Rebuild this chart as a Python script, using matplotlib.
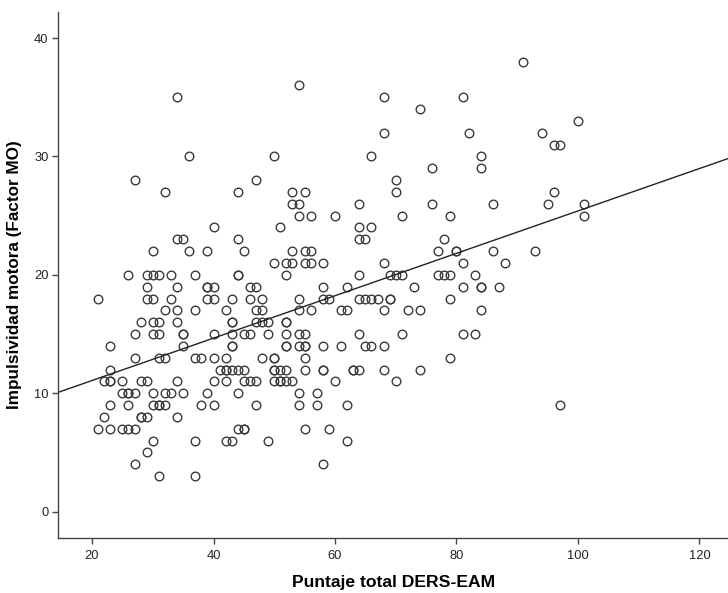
import matplotlib
matplotlib.use("Agg")
import matplotlib.pyplot as plt
import numpy as np

# (DERS-EAM total, Factor MO) pairs, grouped by y value
x_vals = [
    34, 36, 27, 32, 44, 47, 54, 68, 74, 68, 50, 66, 70, 70, 53, 55, 53, 54, 64, 76, 76,
    91, 81, 100, 82, 94, 96, 97, 84, 84, 96, 86, 95, 101,
    54, 56, 60, 71, 79, 101,
    40, 51, 64, 66,
    34, 35, 44, 64, 65, 78,
    30, 36, 39, 45, 53, 55, 56, 77, 80, 80, 86, 93,
    50, 52, 53, 55, 56, 58, 68, 81, 88,
    26, 29, 30, 31, 33, 37, 44, 44, 52, 64, 69, 70, 71, 77, 78, 79, 83,
    29, 34, 39, 39, 40, 46, 47, 58, 62, 73, 81, 84, 84, 87,
    21, 29, 30, 33, 39, 40, 43, 46, 48, 54, 58, 59, 64, 65, 66, 67, 69, 69, 79,
    32, 34, 37, 42, 47, 48, 54, 56, 61, 62, 68, 72, 74, 84,
    28, 30, 31, 34, 43, 43, 47, 48, 49, 52, 52,
    27, 30, 31, 35, 35, 40, 43, 45, 46, 49, 52, 54, 55, 64, 71, 81, 83,
    23, 35, 43, 43, 52, 52, 54, 55, 55, 58, 61, 65, 66, 68,
    27, 31, 32, 37, 38, 40, 42, 48, 50, 50, 55, 79,
    23, 41, 42, 42, 43, 44, 45, 50, 50, 51, 52, 55, 58, 58, 63, 63, 64, 68, 74,
    22, 23, 23, 25, 28, 29, 34, 40, 42, 45, 46, 47, 50, 51, 51, 52, 53, 60, 70,
    25, 26, 26, 27, 30, 32, 33, 35, 39, 44, 54, 57,
    23, 26, 30, 31, 31, 32, 38, 40, 47, 54, 57, 62, 97,
    22, 28, 28, 29, 34,
    21, 23, 25, 26, 27, 44, 45, 45, 55, 59,
    30, 37, 42, 43, 49, 62,
    29,
    27, 58,
    31, 37,
]
y_vals = (
    [35, 30, 28, 27, 27, 28, 36, 35, 34, 32, 30, 30, 28, 27, 27, 27, 26, 26, 26, 29, 26,
     38, 35, 33, 32, 32, 31, 31, 30, 29, 27, 26, 26, 26]
    + [25] * 6 + [24] * 4 + [23] * 6 + [22] * 12 + [21] * 9 + [20] * 17
    + [19] * 14 + [18] * 19 + [17] * 14 + [16] * 11 + [15] * 17 + [14] * 14
    + [13] * 12 + [12] * 19 + [11] * 19 + [10] * 12 + [9] * 13 + [8] * 5
    + [7] * 10 + [6] * 6 + [5] * 1 + [4] * 2 + [3] * 2
)

x_ticks = [20, 40, 60, 80, 100, 120]
y_ticks = [0, 10, 20, 30, 40]
x_label = "Puntaje total DERS-EAM"
y_label = "Impulsividad motora (Factor MO)"

plt.rcParams['font.family'] = ['Liberation Sans', 'DejaVu Sans']

fig = plt.figure(figsize=(7.28, 5.93), dpi=100)
ax = fig.add_axes([0.0801, 0.0933, 0.9199, 0.8865])

xs = np.array(x_vals, dtype=float)
ys = np.array(y_vals, dtype=float)
ax.plot(xs, ys, linestyle='none', marker='o', markersize=6.2,
        markerfacecolor='none', markeredgecolor='#3a3a3a', markeredgewidth=1.0)

xlim = (14.45, 124.7)
slope, intercept = np.polyfit(xs, ys, 1)
lx = np.array(xlim)
ax.plot(lx, intercept + slope * lx, color='#222222', linewidth=1.0)

ax.set_xlim(*xlim)
ax.set_ylim(-2.2, 42.2)
ax.set_xticks(x_ticks)
ax.set_yticks(y_ticks)
ax.tick_params(axis='both', direction='out', length=4, width=1, color='#444444',
               labelsize=9.3, labelcolor='#222222', pad=3)
ax.tick_params(axis='x', pad=5)
for side in ['top', 'right']:
    ax.spines[side].set_visible(False)
for side in ['left', 'bottom']:
    ax.spines[side].set_color('#444444')
    ax.spines[side].set_linewidth(1.0)

ax.set_xlabel(x_label, fontsize=12.6, fontweight='bold', labelpad=9)
ax.set_ylabel(y_label, fontsize=12.3, fontweight='bold', labelpad=9)

fig.savefig("out.png", dpi=100)
